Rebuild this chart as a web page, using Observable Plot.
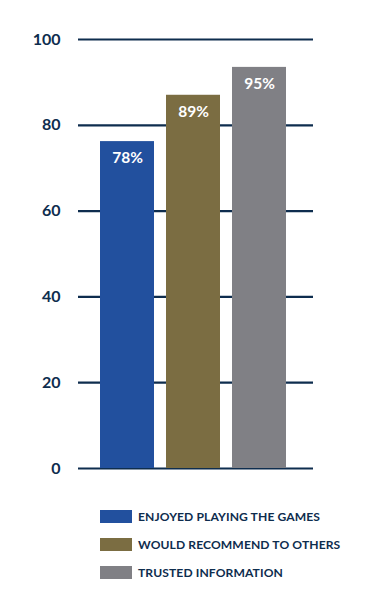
<!DOCTYPE html>
<html>
<head>
<meta charset="utf-8">
<script src="https://cdn.jsdelivr.net/npm/d3@7"></script>
<script src="https://cdn.jsdelivr.net/npm/@observablehq/plot@0.6"></script>
<style>
  html, body { margin: 0; padding: 0; background: #fff; }
  body { width: 371px; height: 606px; overflow: hidden; font-family: Lato, "Open Sans", sans-serif; }
  #legend { padding-left: 100px; margin-top: 12px; }
  .row { display: flex; align-items: center; height: 28px; }
  .sw { width: 32px; height: 13px; margin-right: 6px; }
  .lab { font-weight: 700; font-size: 12.1px; color: #0e2d4e; letter-spacing: 0.1px; }
</style>
</head>
<body>
<div id="chart"></div>
<div id="legend"></div>
<script>
const categories = ["ENJOYED PLAYING THE GAMES", "WOULD RECOMMEND TO OTHERS", "TRUSTED INFORMATION"];
const barHeights = [76.2, 87.0, 93.5];
const valueLabels = ["78%", "89%", "95%"];
const colors = ["#22509e", "#7b6d42", "#808085"];
const yTicks = [0, 20, 40, 60, 80, 100];

const data = categories.map((c, i) => ({cat: c, v: barHeights[i], label: valueLabels[i]}));
const navy = "#0e2d4e";

const plot = Plot.plot({
  width: 371,
  height: 490,
  marginLeft: 78,
  marginRight: 58,
  marginTop: 39,
  marginBottom: 22,
  style: {fontFamily: "Lato, 'Open Sans', sans-serif", background: "#fff"},
  x: {domain: categories, paddingInner: 0.1818, paddingOuter: 0.371, align: 0.45, axis: null},
  y: {domain: [0, 100], ticks: yTicks},
  color: {domain: categories, range: colors},
  marks: [
    Plot.ruleY(yTicks, {stroke: navy, strokeWidth: 2.2}),
    Plot.axisY({ticks: yTicks, tickSize: 0, tickPadding: 18, label: null, fill: navy, fontSize: 16, fontWeight: 700}),
    Plot.barY(data, {x: "cat", y: "v", fill: "cat"}),
    Plot.text(data, {x: "cat", y: "v", text: "label", dy: 16.5, fill: "#fff", fontSize: 15.5, fontWeight: 700, lineAnchor: "middle"})
  ]
});
plot.querySelectorAll("[aria-label='y-axis tick label'] text, [aria-label='y-axis tick label']").forEach(e => {
  e.setAttribute("font-weight", "700");
});
document.getElementById("chart").appendChild(plot);

const legend = document.getElementById("legend");
categories.forEach((c, i) => {
  const row = document.createElement("div");
  row.className = "row";
  const sw = document.createElement("div");
  sw.className = "sw";
  sw.style.background = colors[i];
  const lab = document.createElement("div");
  lab.className = "lab";
  lab.textContent = c;
  row.appendChild(sw);
  row.appendChild(lab);
  legend.appendChild(row);
});
</script>
</body>
</html>
